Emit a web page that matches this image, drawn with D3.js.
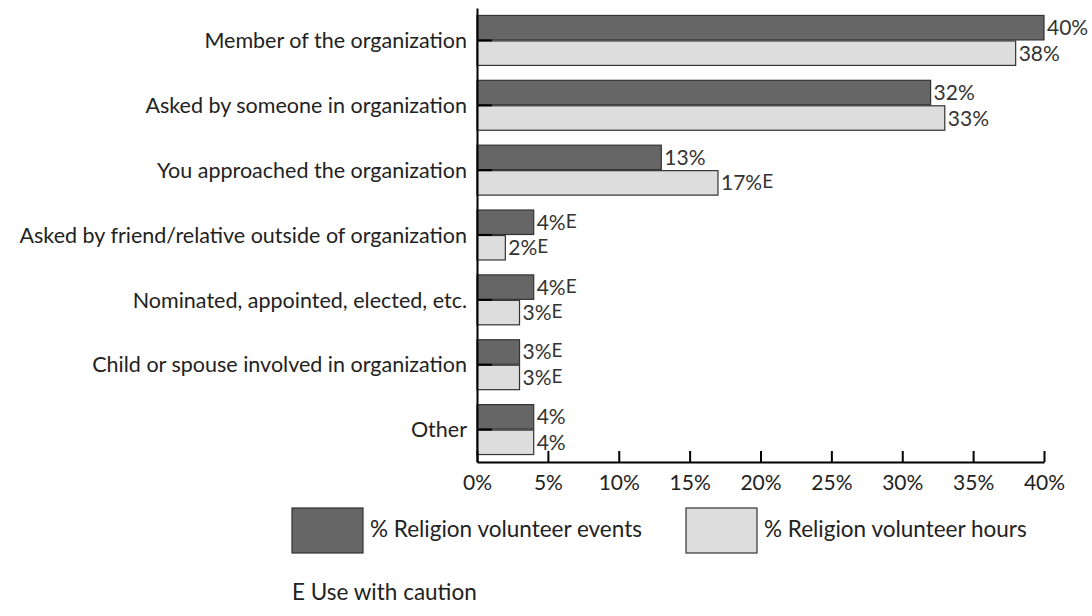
<!DOCTYPE html>
<html>
<head>
<meta charset="utf-8">
<script src="https://cdn.jsdelivr.net/npm/d3@7"></script>
<style>
  html, body { margin: 0; padding: 0; background: #fff; }
  svg text { font-family: Lato, "Open Sans", sans-serif; fill: #222; }
</style>
</head>
<body>
<svg id="chart" width="1092" height="616"></svg>
<script>
// Reasons for starting to volunteer, religious organizations
const categories = [
  "Member of the organization",
  "Asked by someone in organization",
  "You approached the organization",
  "Asked by friend/relative outside of organization",
  "Nominated, appointed, elected, etc.",
  "Child or spouse involved in organization",
  "Other"
];
const seriesNames = ["% Religion volunteer events", "% Religion volunteer hours"];
const eventsValues = [40, 32, 13, 4, 4, 3, 4];
const hoursValues  = [38, 33, 17, 2, 3, 3, 4];
// "E" marks estimates to be used with caution
const eventsCaution = [false, false, false, true, true, true, false];
const hoursCaution  = [false, false, true, true, true, true, false];
const xTicks = [0, 5, 10, 15, 20, 25, 30, 35, 40];
const footnote = "E Use with caution";

const colors = ["#666666", "#dddddd"];
const FONT = "Lato, 'Open Sans', sans-serif";

const svg = d3.select("#chart");
const x = d3.scaleLinear().domain([0, 40]).range([477, 1044]);
const y = d3.scaleBand().domain(categories).range([8, 462]).paddingInner(0.23).paddingOuter(0.115);
const sub = d3.scaleBand().domain([0, 1]).range([0, y.bandwidth()]).paddingInner(0.04);

const rows = categories.map((c, i) => ({
  cat: c,
  vals: [
    { s: 0, v: eventsValues[i], e: eventsCaution[i] },
    { s: 1, v: hoursValues[i],  e: hoursCaution[i] }
  ]
}));

const g = svg.append("g");
const rowG = g.selectAll("g.row").data(rows).join("g")
  .attr("class", "row")
  .attr("transform", d => `translate(0,${y(d.cat)})`);

rowG.selectAll("rect").data(d => d.vals).join("rect")
  .attr("x", x(0))
  .attr("y", d => sub(d.s))
  .attr("width", d => x(d.v) - x(0))
  .attr("height", sub.bandwidth())
  .attr("fill", d => colors[d.s])
  .attr("stroke", "#333")
  .attr("stroke-width", 1.2);

const lbl = rowG.selectAll("text.val").data(d => d.vals).join("text")
  .attr("class", "val")
  .attr("x", d => x(d.v) + 3)
  .attr("y", d => sub(d.s) + sub.bandwidth() / 2 + 7.5)
  .style("font-size", "21px")
  .style("fill", "#333");
lbl.append("tspan").text(d => d.v + "%");
lbl.filter(d => d.e).append("tspan")
  .attr("dy", -2)
  .style("font-size", "19px")
  .text("E");

// y axis with short inward ticks
const yAxis = svg.append("g")
  .attr("transform", `translate(${x(0)},0)`)
  .call(d3.axisLeft(y).tickSizeInner(-15).tickSizeOuter(0).tickPadding(25));
yAxis.select(".domain").attr("stroke", "#000").attr("stroke-width", 2);
yAxis.selectAll(".tick line").attr("stroke", "#000").attr("stroke-width", 2);
yAxis.selectAll(".tick text")
  .attr("x", -10)
  .attr("dy", "0.36em")
  .style("font-size", "21.5px")
  .style("font-family", FONT)
  .attr("fill", "#222");

// x axis with ticks pointing up
const xAxis = svg.append("g")
  .attr("transform", "translate(0,462)")
  .call(d3.axisBottom(x).tickValues(xTicks).tickFormat(d => d + "%").tickSizeInner(-11).tickSizeOuter(0).tickPadding(9));
xAxis.select(".domain").attr("stroke", "#000").attr("stroke-width", 2);
xAxis.selectAll(".tick line").attr("stroke", "#000").attr("stroke-width", 2);
xAxis.selectAll(".tick text")
  .attr("y", 13)
  .style("font-size", "21px")
  .style("font-family", FONT)
  .attr("fill", "#222");

// legend
const legendX = [292, 686];
const leg = svg.append("g").selectAll("g").data(seriesNames).join("g")
  .attr("transform", (d, i) => `translate(${legendX[i]},508)`);
leg.append("rect")
  .attr("width", 71).attr("height", 45)
  .attr("fill", (d, i) => colors[i])
  .attr("stroke", "#333").attr("stroke-width", 1.2);
leg.append("text")
  .attr("x", 78).attr("y", 29)
  .style("font-size", "22.5px")
  .text(d => d);

svg.append("text")
  .attr("x", 292).attr("y", 600)
  .style("font-size", "22.5px")
  .text(footnote);
</script>
</body>
</html>
